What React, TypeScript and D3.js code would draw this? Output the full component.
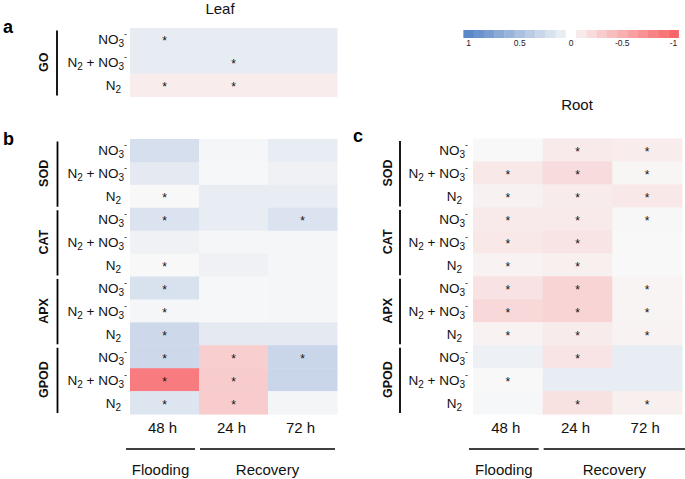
import React from "react";
import * as d3 from "d3";

const groupsA = ["GO"];
const groupsBC = ["SOD", "CAT", "APX", "GPOD"];
const treatments = ["NO3-", "N2 + NO3-", "N2"];
const times = ["48 h", "24 h", "72 h"];
const legendTicks = [1, 0.5, 0, -0.5, -1];
const legendTickLabels = ["1", "0.5", "0", "-0.5", "-1"];

// values per row (group x treatment), columns = times
const leafGO = [
  [0.11, 0.11, 0.11],
  [0.11, 0.11, 0.11],
  [-0.08, -0.08, -0.08],
];
const leafGOStars = [
  [1, 0, 0],
  [0, 1, 0],
  [1, 1, 0],
];

const leafEnz = [
  [0.22, 0.02, 0.1],
  [0.12, 0.01, 0.06],
  [0.0, 0.1, 0.1],
  [0.19, 0.1, 0.19],
  [0.06, 0.02, 0.02],
  [0.0, 0.06, 0.02],
  [0.2, 0.01, 0.02],
  [0.02, 0.01, 0.02],
  [0.27, 0.12, 0.12],
  [0.27, -0.29, 0.3],
  [-0.85, -0.31, 0.3],
  [0.17, -0.31, 0.03],
];
const leafEnzStars = [
  [0, 0, 0],
  [0, 0, 0],
  [1, 0, 0],
  [1, 0, 1],
  [0, 0, 0],
  [1, 0, 0],
  [1, 0, 0],
  [1, 0, 0],
  [1, 0, 0],
  [1, 1, 1],
  [1, 1, 0],
  [1, 1, 0],
];

const rootEnz = [
  [0.0, -0.1, -0.08],
  [-0.11, -0.2, -0.02],
  [-0.05, -0.09, -0.11],
  [-0.1, -0.1, -0.01],
  [-0.11, -0.14, 0.0],
  [-0.04, -0.06, 0.0],
  [-0.15, -0.25, -0.03],
  [-0.22, -0.25, -0.03],
  [-0.04, -0.09, -0.04],
  [0.07, -0.14, 0.1],
  [0.0, 0.1, 0.1],
  [0.01, -0.16, -0.06],
];
const rootEnzStars = [
  [0, 1, 1],
  [1, 1, 1],
  [1, 1, 1],
  [1, 1, 1],
  [1, 1, 0],
  [1, 1, 0],
  [1, 1, 1],
  [1, 1, 1],
  [1, 1, 1],
  [0, 1, 0],
  [1, 0, 0],
  [0, 1, 1],
];

const FONT = "'Liberation Sans', Arial, sans-serif";
const blueI = d3.interpolateRgb("#f8f8f8", "#5a87c8");
const redI = d3.interpolateRgb("#f8f8f8", "#f8666a");
const color = (v: number) => (v >= 0 ? blueI(Math.min(1, v)) : redI(Math.min(1, -v)));

function RowLabel({ label, x, y }: { label: string; x: number; y: number }) {
  const fs = 13.5;
  const sub = 10;
  if (label === "N2") {
    return (
      <text x={x - 6} y={y} textAnchor="end" fontSize={fs} fontFamily={FONT} fill="#111">
        <tspan>N</tspan>
        <tspan fontSize={sub} dy={3}>2</tspan>
      </text>
    );
  }
  const parts: React.ReactNode[] = [];
  if (label === "N2 + NO3-") {
    parts.push(<tspan key="n">N</tspan>);
    parts.push(<tspan key="2" fontSize={sub} dy={3}>2</tspan>);
    parts.push(<tspan key="p" dy={-3}> + NO</tspan>);
  } else {
    parts.push(<tspan key="no">NO</tspan>);
  }
  parts.push(<tspan key="3" fontSize={sub} dy={3}>3</tspan>);
  parts.push(<tspan key="m" fontSize={9} dy={-10}>-</tspan>);
  return (
    <text x={x} y={y} textAnchor="end" fontSize={fs} fontFamily={FONT} fill="#111">
      {parts}
    </text>
  );
}

type PanelProps = {
  groups: string[];
  values: number[][];
  stars: number[][];
  x0: number;
  x1: number;
  y0: number;
  rowH: number;
  labelRight: number;
  barX: number;
  groupX: number;
};

function Panel({ groups, values, stars, x0, x1, y0, rowH, labelRight, barX, groupX }: PanelProps) {
  const rowKeys = groups.flatMap((g) => treatments.map((t) => g + "|" + t));
  const y = d3.scaleBand<string>().domain(rowKeys).range([y0, y0 + rowH * rowKeys.length]);
  const x = d3.scaleBand<string>().domain(times).range([x0, x1]);
  return (
    <g>
      {rowKeys.map((rk, i) =>
        times.map((t, j) => (
          <rect
            key={rk + t}
            x={x(t)!}
            y={y(rk)!}
            width={x.bandwidth() + 0.5}
            height={y.bandwidth() + 0.5}
            fill={color(values[i][j])}
          />
        ))
      )}
      {rowKeys.map((rk, i) =>
        times.map((t, j) =>
          stars[i][j] ? (
            <text
              key={"s" + rk + t}
              x={x(t)! + x.bandwidth() / 2}
              y={y(rk)! + y.bandwidth() / 2 + 6}
              textAnchor="middle"
              fontSize={12}
              fontFamily={FONT}
              fill="#111"
            >
              *
            </text>
          ) : null
        )
      )}
      {rowKeys.map((rk) => {
        const t = rk.split("|")[1];
        return <RowLabel key={"l" + rk} label={t} x={labelRight} y={y(rk)! + y.bandwidth() / 2 + 5} />;
      })}
      {groups.map((g) => {
        const top = y(g + "|" + treatments[0])!;
        const bot = y(g + "|" + treatments[2])! + y.bandwidth();
        const mid = (top + bot) / 2;
        return (
          <g key={"g" + g}>
            <line x1={barX} x2={barX} y1={top + 2.5} y2={bot - 1} stroke="#000" strokeWidth={1.8} />
            <text
              transform={`translate(${groupX},${mid}) rotate(-90)`}
              textAnchor="middle"
              fontSize={12.5}
              fontWeight="bold"
              fontFamily={FONT}
              fill="#111"
            >
              {g}
            </text>
          </g>
        );
      })}
    </g>
  );
}

function XAxis({ x0, x1, lineRight }: { x0: number; x1: number; lineRight: number }) {
  const x = d3.scaleBand<string>().domain(times).range([x0, x1]);
  const fx0 = x(times[0])!;
  const floodL = fx0 - 4;
  const floodR = fx0 + x.bandwidth() - 4;
  const recL = floodR + 5;
  return (
    <g fontFamily={FONT} fill="#111">
      {times.map((t) => (
        <text key={t} x={x(t)! + x.bandwidth() / 2 - 2} y={433} textAnchor="middle" fontSize={15}>
          {t}
        </text>
      ))}
      <line x1={floodL} x2={floodR} y1={449} y2={449} stroke="#000" strokeWidth={1.5} />
      <line x1={recL} x2={lineRight} y1={449} y2={449} stroke="#000" strokeWidth={1.5} />
      <text x={(floodL + floodR) / 2} y={475} textAnchor="middle" fontSize={15}>
        Flooding
      </text>
      <text x={(recL + lineRight) / 2} y={475} textAnchor="middle" fontSize={15}>
        Recovery
      </text>
    </g>
  );
}

function Legend() {
  const lx = d3.scaleLinear().domain([1, -1]).range([468.5, 673.5]);
  const steps = d3.range(21).map((i) => 1 - i * 0.1);
  const w = (lx(-1) - lx(1)) / 20;
  return (
    <g>
      {steps.map((v, i) => (
        <rect
          key={i}
          x={lx(v) - w / 2}
          y={30}
          width={w + 0.3}
          height={8}
          fill={Math.abs(v) < 1e-9 ? "#ffffff" : color(v)}
        />
      ))}
      {legendTicks.map((v, i) => (
        <text key={"t" + i} x={lx(v)} y={45.5} textAnchor="middle" fontSize={8.5} fontFamily={FONT} fill="#222">
          {legendTickLabels[i]}
        </text>
      ))}
    </g>
  );
}

export default function App() {
  return (
    <svg
      width={685}
      height={479}
      viewBox="0 0 685 479"
      style={{ position: "absolute", left: 0, top: 0, background: "#fff" }}
    >
      <rect width={685} height={479} fill="#fff" />
      <text x={220} y={13.5} textAnchor="middle" fontSize={15} fontFamily={FONT} fill="#111">
        Leaf
      </text>
      <text x={577} y={110} textAnchor="middle" fontSize={15} fontFamily={FONT} fill="#111">
        Root
      </text>
      <text x={3} y={33} fontSize={18} fontWeight="bold" fontFamily={FONT} fill="#000">a</text>
      <text x={3} y={145} fontSize={18} fontWeight="bold" fontFamily={FONT} fill="#000">b</text>
      <text x={353} y={142} fontSize={18} fontWeight="bold" fontFamily={FONT} fill="#000">c</text>

      <Panel
        groups={groupsA}
        values={leafGO}
        stars={leafGOStars}
        x0={130}
        x1={337}
        y0={28}
        rowH={22.8}
        labelRight={127}
        barX={57}
        groupX={47.5}
      />
      <Panel
        groups={groupsBC}
        values={leafEnz}
        stars={leafEnzStars}
        x0={130}
        x1={337}
        y0={139}
        rowH={22.92}
        labelRight={127}
        barX={57.5}
        groupX={47.5}
      />
      <Panel
        groups={groupsBC}
        values={rootEnz}
        stars={rootEnzStars}
        x0={473}
        x1={682}
        y0={138.5}
        rowH={22.96}
        labelRight={468}
        barX={400}
        groupX={391.5}
      />
      <XAxis x0={130} x1={337} lineRight={335} />
      <XAxis x0={473} x1={682} lineRight={685} />
      <Legend />
    </svg>
  );
}
